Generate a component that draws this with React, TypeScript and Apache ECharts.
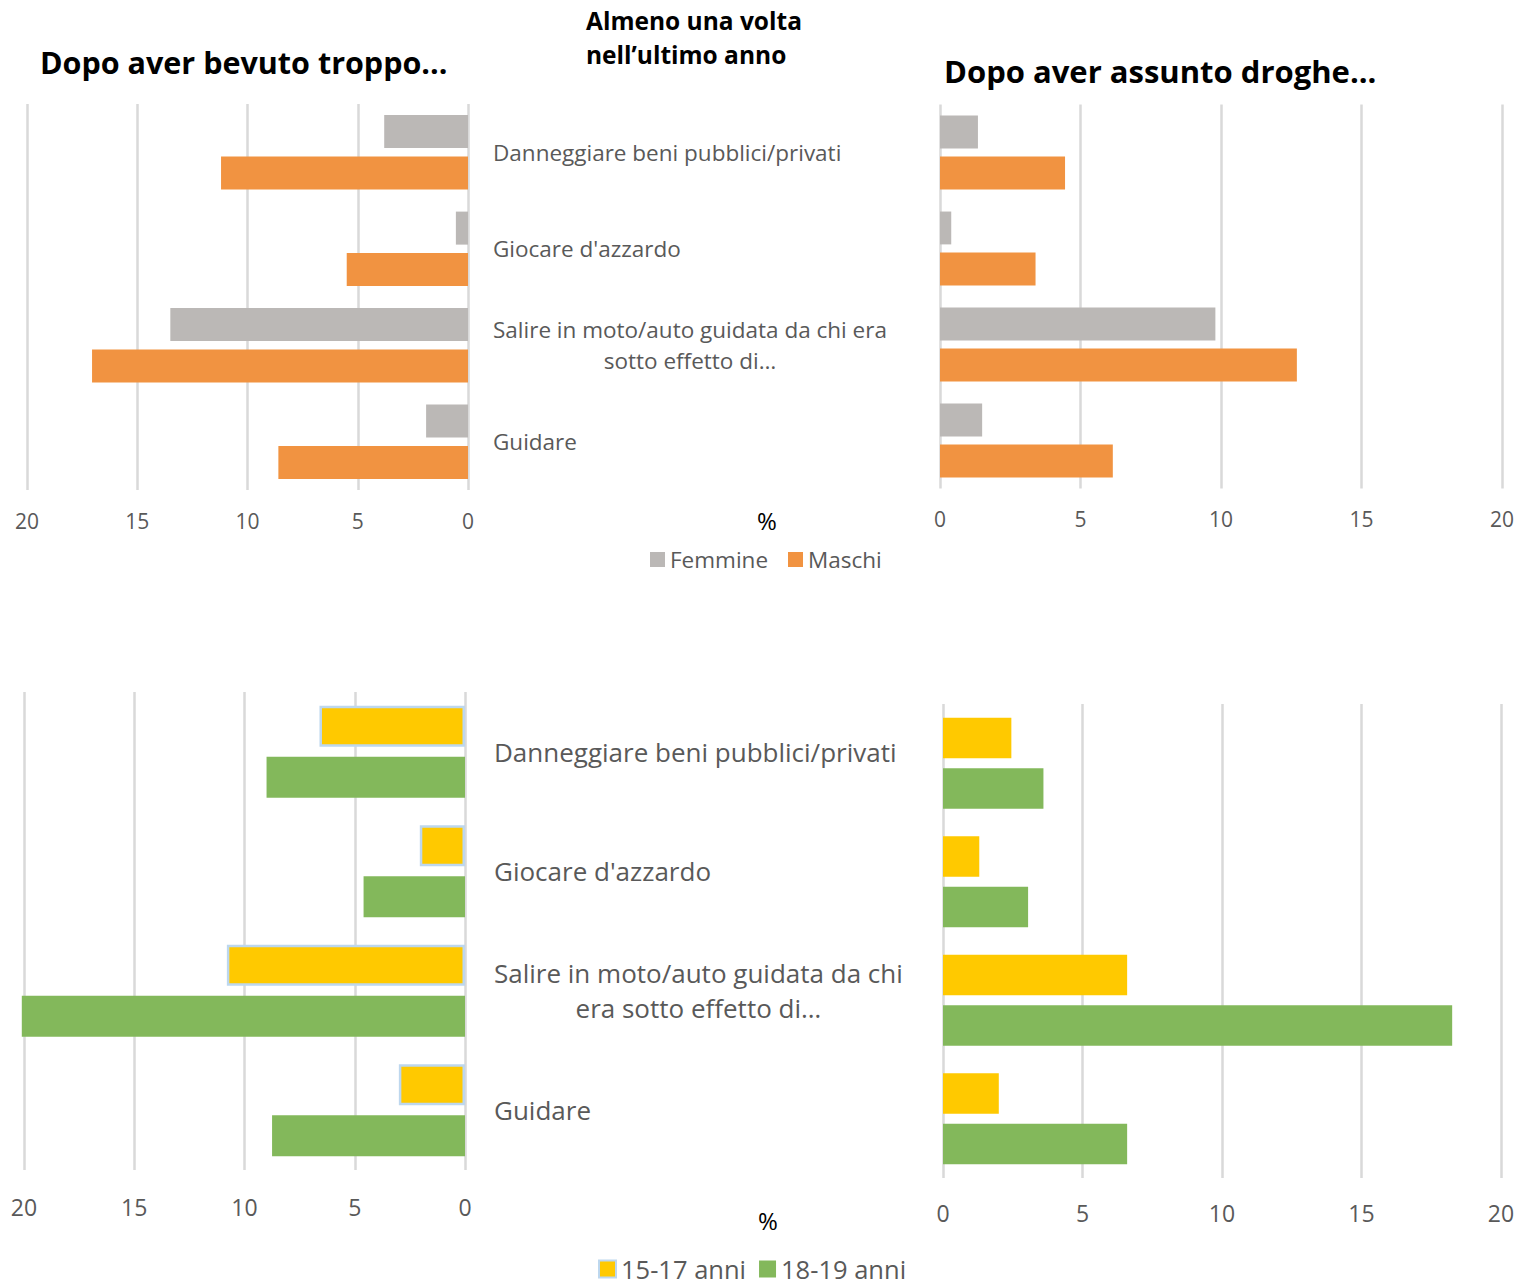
import React, { useEffect, useRef } from "react";
import * as echarts from "echarts";

const topLabels = [
  "Danneggiare beni pubblici/privati",
  "Giocare d'azzardo",
  "Salire in moto/auto guidata da chi era\nsotto effetto di…",
  "Guidare",
];
const bottomLabels = [
  "Danneggiare beni pubblici/privati",
  "Giocare d'azzardo",
  "Salire in moto/auto guidata da chi\nera sotto effetto di…",
  "Guidare",
];

const alcolFemmine = [3.8, 0.55, 13.5, 1.9];
const alcolMaschi = [11.2, 5.5, 17.05, 8.6];
const drogheFemmine = [1.35, 0.4, 9.8, 1.5];
const drogheMaschi = [4.45, 3.4, 12.7, 6.15];
const alcol1517 = [6.6, 2.05, 10.8, 3.0];
const alcol1819 = [9.0, 4.6, 20.1, 8.75];
const droghe1517 = [2.45, 1.3, 6.6, 2.0];
const droghe1819 = [3.6, 3.05, 18.25, 6.6];

const xMin = 0;
const xMax = 20;
const xStep = 5;

const FONT = "'Open Sans', 'Noto Sans', sans-serif";
const GREY_TXT = "#595959";
const C_F = "#BBB8B6";
const C_M = "#F19341";
const C_Y = "#FFC900";
const C_G = "#83B85B";

export default function App() {
  const ref = useRef<HTMLDivElement>(null);
  useEffect(() => {
    if (!ref.current) return;
    const chart = echarts.init(ref.current, null, { renderer: "svg" });

    const valueAxis = (gridIndex: number, inverse: boolean, margin: number, fs: number) => ({
      type: "value",
      gridIndex,
      inverse,
      min: xMin,
      max: xMax,
      interval: xStep,
      axisLine: { show: false },
      axisTick: { show: false },
      axisLabel: { color: GREY_TXT, fontSize: fs, fontFamily: FONT, margin },
      splitLine: { show: true, lineStyle: { color: "#D9D9D9", width: 2.5 } },
    });

    const richLabel = (fs: number, lh: number) => ({
      show: true,
      align: "left",
      formatter: (v: string) =>
        v
          .split("\n")
          .map((l) => `{c|${l}}`)
          .join("\n"),
      rich: {
        c: { align: "center", fontSize: fs, lineHeight: lh, color: GREY_TXT, fontFamily: FONT },
      },
    });

    const catAxis = (gridIndex: number, data: string[], labels: boolean, margin = 0, fs = 20, lh = 31) => ({
      type: "category",
      gridIndex,
      data,
      inverse: true,
      position: "right",
      axisLine: { show: false },
      axisTick: { show: false },
      axisLabel: labels ? { ...richLabel(fs, lh), margin } : { show: false },
      splitLine: { show: false },
    });

    const bar = (
      name: string,
      data: number[],
      idx: number,
      color: string,
      border?: boolean
    ) => ({
      type: "bar",
      name,
      data,
      xAxisIndex: idx,
      yAxisIndex: idx,
      barGap: "25%",
      barCategoryGap: "23%",
      clip: false,
      itemStyle: border
        ? { color, borderColor: "#BDD7EE", borderWidth: 2.5 }
        : { color },
    });

    const option: any = {
      animation: false,
      backgroundColor: "#FFFFFF",
      title: [
        {
          text: "Dopo aver bevuto troppo...",
          left: 40,
          top: 46,
          padding: 0,
          textStyle: { fontSize: 30.5, fontWeight: "bold", color: "#000", fontFamily: FONT },
        },
        {
          text: "Dopo aver assunto droghe...",
          left: 944,
          top: 55,
          padding: 0,
          textStyle: { fontSize: 31, fontWeight: "bold", color: "#000", fontFamily: FONT },
        },
        {
          text: "Almeno una volta\nnell’ultimo anno",
          left: 586,
          top: 3,
          padding: 0,
          textStyle: {
            fontSize: 24.5,
            lineHeight: 34,
            fontWeight: "bold",
            color: "#000",
            fontFamily: "'Liberation Sans Narrow', 'Open Sans', sans-serif",
          },
        },
        {
          text: "%",
          left: 757,
          top: 508,
          padding: 0,
          textStyle: { fontSize: 24, fontWeight: "normal", color: "#000", fontFamily: FONT },
        },
        {
          text: "%",
          left: 758,
          top: 1208,
          padding: 0,
          textStyle: { fontSize: 24, fontWeight: "normal", color: "#000", fontFamily: FONT },
        },
      ],
      legend: [
        {
          data: ["Femmine", "Maschi"],
          left: 650,
          top: 548,
          padding: 0,
          icon: "rect",
          itemWidth: 15,
          itemHeight: 15,
          itemGap: 20,
          textStyle: { fontSize: 22.5, color: GREY_TXT, fontFamily: FONT },
        },
        {
          data: [
            { name: "15-17 anni", itemStyle: { color: C_Y, borderColor: "#BDD7EE", borderWidth: 2 } },
            { name: "18-19 anni", itemStyle: { color: C_G, borderWidth: 0 } },
          ],
          left: 598,
          top: 1255,
          padding: 0,
          icon: "rect",
          itemWidth: 17,
          itemHeight: 17,
          itemGap: 13,
          textStyle: { fontSize: 25.5, lineHeight: 28, color: GREY_TXT, fontFamily: FONT },
        },
      ],
      grid: [
        { left: 27, width: 441, top: 104, height: 386, containLabel: false },
        { left: 940, width: 562, top: 104.5, height: 384, containLabel: false },
        { left: 24, width: 441, top: 692, height: 478, containLabel: false },
        { left: 943, width: 558, top: 704, height: 474, containLabel: false },
      ],
      xAxis: [
        valueAxis(0, true, 20, 21),
        valueAxis(1, false, 20, 21),
        valueAxis(2, true, 25, 23),
        valueAxis(3, false, 23, 23),
      ],
      yAxis: [
        catAxis(0, topLabels, true, 25, 22.5, 31),
        catAxis(1, topLabels, false),
        catAxis(2, bottomLabels, true, 29, 26, 35),
        catAxis(3, bottomLabels, false),
      ],
      series: [
        bar("Femmine", alcolFemmine, 0, C_F),
        bar("Maschi", alcolMaschi, 0, C_M),
        bar("Femmine", drogheFemmine, 1, C_F),
        bar("Maschi", drogheMaschi, 1, C_M),
        bar("15-17 anni", alcol1517, 2, C_Y, true),
        bar("18-19 anni", alcol1819, 2, C_G),
        bar("15-17 anni", droghe1517, 3, C_Y),
        bar("18-19 anni", droghe1819, 3, C_G),
      ],
    };
    chart.setOption(option);
    return () => chart.dispose();
  }, []);

  return (
    <div
      ref={ref}
      style={{ position: "absolute", left: 0, top: 0, width: 1521, height: 1288, background: "#fff" }}
    />
  );
}
